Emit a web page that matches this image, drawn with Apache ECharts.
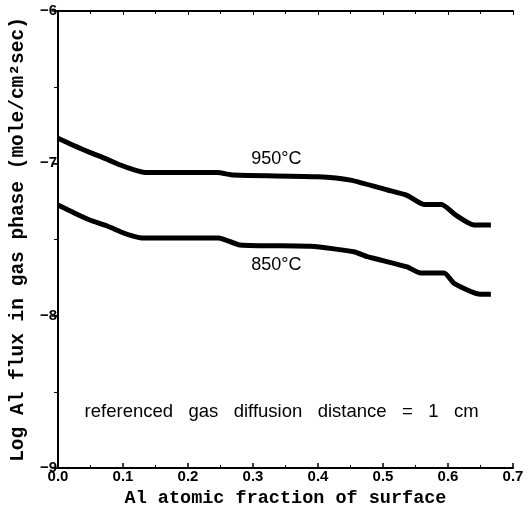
<!DOCTYPE html>
<html><head><meta charset="utf-8">
<script src="https://cdn.jsdelivr.net/npm/echarts@6/dist/echarts.min.js"></script>
<style>html,body{margin:0;padding:0;background:#fff}#c{width:529px;height:512px}</style>
</head><body><div id="c"></div>
<script>
const xTicks = [0, 0.1, 0.2, 0.3, 0.4, 0.5, 0.6, 0.7];
const yTicks = [-9, -8, -7, -6];
const x950 = [0.0, 0.025, 0.049, 0.075, 0.096, 0.115, 0.134, 0.245, 0.27, 0.40, 0.45, 0.507, 0.537, 0.563, 0.59, 0.612, 0.64, 0.666];
const y950 = [-6.836, -6.885, -6.928, -6.972, -7.011, -7.04, -7.06, -7.06, -7.077, -7.088, -7.11, -7.175, -7.21, -7.27, -7.27, -7.34, -7.405, -7.405];
const x850 = [0.0, 0.025, 0.049, 0.075, 0.096, 0.113, 0.129, 0.247, 0.28, 0.389, 0.455, 0.476, 0.537, 0.558, 0.594, 0.61, 0.65, 0.666];
const y850 = [-7.274, -7.326, -7.372, -7.41, -7.449, -7.475, -7.49, -7.49, -7.536, -7.545, -7.58, -7.613, -7.68, -7.72, -7.72, -7.79, -7.86, -7.86];
const labels = ['950°C', '850°C'];
const note = 'referenced gas diffusion distance = 1 cm';

const chart = echarts.init(document.getElementById('c'));
const zip = (a, b) => a.map((v, i) => [v, b[i]]);
const axisCommon = {
  axisLine: {show: true, lineStyle: {color: '#000', width: 2}},
  splitLine: {show: false}
};
chart.setOption({
  animation: false,
  grid: {left: 58, right: 16, top: 11, bottom: 44, outerBoundsMode: 'none', containLabel: false},
  xAxis: [{
    ...axisCommon, type: 'value', min: 0, max: 0.7, interval: 0.1, position: 'bottom',
    axisTick: {show: true, inside: true, length: 5, lineStyle: {color: '#000', width: 1.5}},
    minorTick: {show: true, splitNumber: 2, length: 3, lineStyle: {color: '#000'}},
    axisLabel: {color: '#000', fontFamily: 'Liberation Sans', fontWeight: 'bold', fontSize: 15, margin: 1, formatter: v => v.toFixed(1)},
    name: 'Al atomic fraction of surface', nameLocation: 'middle', nameGap: 21,
    nameTextStyle: {color: '#000', fontFamily: 'Liberation Mono', fontWeight: 'bold', fontSize: 18.5}
  }, {
    ...axisCommon, type: 'value', min: 0, max: 0.7, interval: 0.1, position: 'top',
    axisTick: {show: true, inside: true, length: 4, lineStyle: {color: '#000'}},
    minorTick: {show: true, splitNumber: 2, length: 3, lineStyle: {color: '#000'}},
    axisLabel: {show: false}
  }],
  yAxis: [{
    ...axisCommon, type: 'value', min: -9, max: -6, interval: 1, position: 'left',
    axisTick: {show: true, inside: false, length: 6, lineStyle: {color: '#000', width: 1.5}},
    minorTick: {show: true, splitNumber: 2, length: 4, lineStyle: {color: '#000'}},
    axisLabel: {color: '#000', fontFamily: 'Liberation Sans', fontWeight: 'bold', fontSize: 15, margin: 1, formatter: v => '−' + Math.abs(v)},
    name: 'Log Al flux in gas phase (mole/cm²sec)', nameLocation: 'middle', nameGap: 30, nameRotate: 90,
    nameTextStyle: {color: '#000', fontFamily: 'Liberation Mono', fontWeight: 'bold', fontSize: 19.5}
  }, {
    ...axisCommon, type: 'value', min: -9, max: -6, interval: 1, position: 'right',
    axisTick: {show: true, inside: true, length: 4, lineStyle: {color: '#000'}},
    minorTick: {show: true, splitNumber: 2, length: 3, lineStyle: {color: '#000'}},
    axisLabel: {show: false}
  }],
  series: [
    {type: 'line', data: zip(x950, y950), symbol: 'none', smooth: 0.2, lineStyle: {color: '#000', width: 5}},
    {type: 'line', data: zip(x850, y850), symbol: 'none', smooth: 0.2, lineStyle: {color: '#000', width: 5}}
  ]
});
const p1 = chart.convertToPixel({gridIndex: 0}, [0.336, -6.97]);
const p2 = chart.convertToPixel({gridIndex: 0}, [0.336, -7.67]);
const p3 = chart.convertToPixel({gridIndex: 0}, [0.344, -8.63]);
const ts = {fill: '#000', fontFamily: 'Liberation Sans', fontSize: 18, align: 'center', verticalAlign: 'middle'};
chart.setOption({graphic: [
  {type: 'text', x: p1[0], y: p1[1], style: {...ts, text: labels[0]}},
  {type: 'text', x: p2[0], y: p2[1], style: {...ts, text: labels[1]}},
  {type: 'text', x: p3[0], y: p3[1], style: {...ts, fontSize: 18.5, text: note.replace(/ /g, '   ')}}
]});
</script></body></html>
